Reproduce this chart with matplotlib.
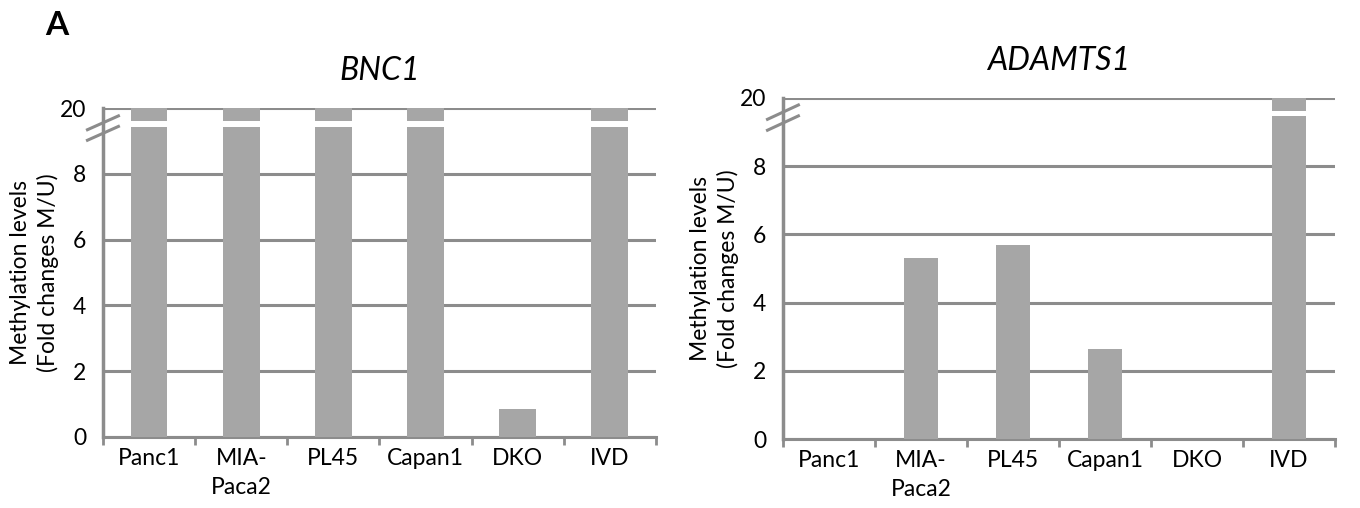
import numpy as np
import matplotlib.pyplot as plt
from matplotlib.ticker import FixedLocator

plt.rcParams['font.family'] = ['Lato', 'DejaVu Sans']

# cell lines and methylation levels (M/U fold change, values at the cap drawn at 20)
lineas = ['Panc1', 'MIA-\nPaca2', 'PL45', 'Capan1', 'DKO', 'IVD']
bnc1 = [20, 20, 20, 20, 0.85, 20]
adamts1 = [0, 5.32, 5.68, 2.65, 0, 20]
ticks_y = [0, 2, 4, 6, 8, 20]

GRIS = '#a6a6a6'
LINEA = '#8c8c8c'


def escala(v):
    # eje cortado: 0-8 lineal, 8-20 comprimido en un solo paso
    v = np.asarray(v, dtype=float)
    return np.where(v <= 8, v, 8 + (v - 8) * 2 / 12)


def graficar(ax, datos, titulo, ancho_barra, hueco):
    x = np.arange(len(datos))
    ax.bar(x, escala(datos), width=ancho_barra, color=GRIS, zorder=3)
    # franja blanca en las barras que pasan el corte
    ax.axhspan(hueco[0], hueco[1], color='white', zorder=4, lw=0)

    ax.set_xlim(-0.5, len(datos) - 0.5)
    ax.set_ylim(0, 10)
    ax.set_yticks(escala(ticks_y))
    ax.set_yticklabels([str(t) for t in ticks_y])
    ax.yaxis.grid(True, color=LINEA, lw=2.2, zorder=1)
    ax.set_axisbelow(True)

    ax.set_xticks(x)
    ax.set_xticklabels(lineas, fontsize=16.5, linespacing=1.45, va='top')
    ax.xaxis.set_minor_locator(FixedLocator(np.arange(-0.5, len(datos), 1)))
    ax.tick_params(axis='x', which='major', length=0, pad=8)
    ax.tick_params(axis='x', which='minor', length=6, width=2, color=LINEA)
    ax.tick_params(axis='y', length=0, labelsize=16.5, pad=12)

    for lado in ['top', 'right']:
        ax.spines[lado].set_visible(False)
    ax.spines['bottom'].set_color(LINEA)
    ax.spines['bottom'].set_linewidth(2.2)
    ax.spines['left'].set_color(LINEA)
    ax.spines['left'].set_linewidth(2.5)
    ax.spines['left'].set_zorder(5)

    ax.set_title(titulo, fontsize=23, style='italic', pad=20)
    ax.set_ylabel('Methylation levels\n(Fold changes M/U)', fontsize=16.5,
                  linespacing=1.3, labelpad=1)

    # marcas de corte sobre el eje y
    y0 = 0.5 * (hueco[0] + hueco[1]) / 10 - 0.012
    for d in (-0.016, 0.016):
        ax.plot([-0.028, 0.028], [y0 + d - 0.021, y0 + d + 0.021],
                transform=ax.transAxes, color=LINEA, lw=2.2, clip_on=False, zorder=6)


fig = plt.figure(figsize=(13.6, 5.08), dpi=100)
ax1 = fig.add_axes([0.0757, 0.1398, 0.4066, 0.6476])
ax2 = fig.add_axes([0.5757, 0.1358, 0.4059, 0.6713])

graficar(ax1, bnc1, 'BNC1', 0.4, (9.42, 9.6))
graficar(ax2, adamts1, 'ADAMTS1', 0.36, (9.47, 9.62))

fig.text(0.033, 0.932, 'A', fontsize=24, fontweight='bold')

fig.savefig('out.png', dpi=100)
